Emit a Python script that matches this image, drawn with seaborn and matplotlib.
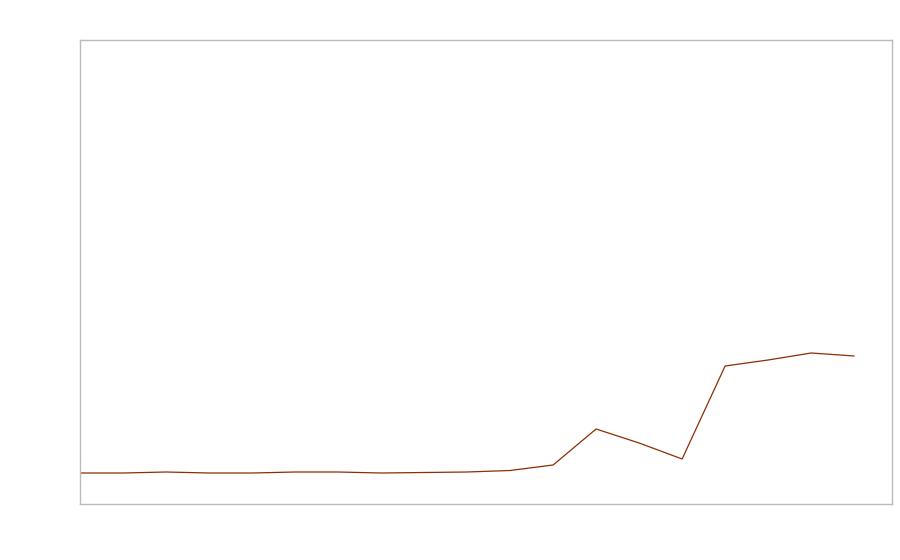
import matplotlib
matplotlib.use("Agg")
import matplotlib.pyplot as plt
import seaborn as sns
import pandas as pd

# series (no labels visible)
periods = list(range(19))
values = [0, 0, 1, 0, 0, 1, 1, 0, 0.5, 1, 2.5, 8, 44, 30, 14, 107, 113, 120, 117]

df = pd.DataFrame({"period": periods, "value": values})

sns.set_style("white")
fig = plt.figure(figsize=(9, 5.6), dpi=100)
ax = fig.add_axes([80 / 900, 56 / 560, 812 / 900, 464 / 560])

sns.lineplot(data=df, x="period", y="value", color="#8c2d04", linewidth=0.9, ax=ax)

ax.set_xlim(0, 18.88)
ax.set_ylim(-31, 433)
ax.set_xticks([])
ax.set_yticks([])
ax.set_xlabel("")
ax.set_ylabel("")
for s in ax.spines.values():
    s.set_color("#bbbbbb")
    s.set_linewidth(1)

fig.savefig("out.png", dpi=100)
